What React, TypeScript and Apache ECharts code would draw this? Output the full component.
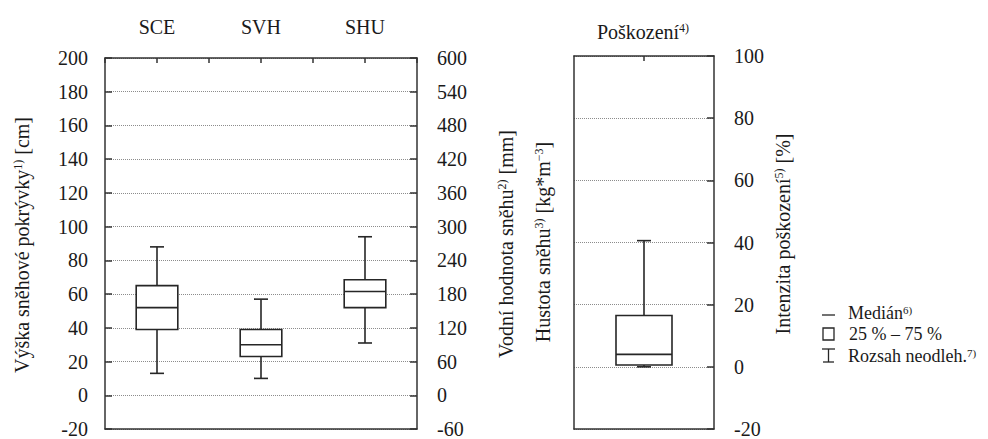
import React, { useEffect, useRef } from 'react';
import * as echarts from 'echarts';

// ---- data ----
const categories = ['SCE', 'SVH', 'SHU'];
// [min, Q1, median, Q3, max]
const snowMin = [13, 10, 31];
const snowQ1 = [39, 23, 52];
const snowMedian = [52, 30, 61.5];
const snowQ3 = [65, 39, 68.5];
const snowMax = [88, 57, 94];

const damageCategories = ['Poškození'];
const damageMin = [0];
const damageQ1 = [0.6];
const damageMedian = [4];
const damageQ3 = [16.5];
const damageMax = [40.6];

const depthTicks = [-20, 0, 20, 40, 60, 80, 100, 120, 140, 160, 180, 200];
const waterTicks = [-60, 0, 60, 120, 180, 240, 300, 360, 420, 480, 540, 600];
const damageTicks = [-20, 0, 20, 40, 60, 80, 100];
const topTickBands = ['a', 'b', 'c', 'd', 'e', 'f'];

const FONT = 'Liberation Serif';
const INK = '#262626';
const AXIS = '#333';

const range = (t: number[]) => ({ min: t[0], max: t[t.length - 1], interval: t[1] - t[0] });

const makeRender = (capW: number) => (params: any, api: any) => {
  const i = api.value(0);
  const c = (v: number) => api.coord([i, v]);
  const lo = c(api.value(1));
  const q1 = c(api.value(2));
  const md = c(api.value(3));
  const q3 = c(api.value(4));
  const hi = c(api.value(5));
  const band = api.size([1, 0])[0];
  const hw = band * 0.2;
  const x = lo[0];
  const st = { stroke: INK, lineWidth: 1.6, fill: 'none' };
  return {
    type: 'group',
    children: [
      { type: 'line', shape: { x1: x, y1: hi[1], x2: x, y2: q3[1] }, style: st },
      { type: 'line', shape: { x1: x, y1: q1[1], x2: x, y2: lo[1] }, style: st },
      { type: 'line', shape: { x1: x - capW / 2, y1: hi[1], x2: x + capW / 2, y2: hi[1] }, style: st },
      { type: 'line', shape: { x1: x - capW / 2, y1: lo[1], x2: x + capW / 2, y2: lo[1] }, style: st },
      { type: 'rect', shape: { x: x - hw, y: q3[1], width: 2 * hw, height: q1[1] - q3[1] }, style: { stroke: INK, lineWidth: 1.6, fill: '#fff' } },
      { type: 'line', shape: { x1: x - hw, y1: md[1], x2: x + hw, y2: md[1] }, style: st },
    ],
  };
};

const makeRich = (size: number, sup: number) => ({
  n: { font: `${size}px ${FONT}`, fontFamily: FONT, fontSize: size, lineHeight: size, fill: '#1a1a1a' },
  s: { font: `${sup}px ${FONT}`, fontFamily: FONT, fontSize: sup, lineHeight: sup, verticalAlign: 'top', fill: '#1a1a1a' },
});

const rtext = (x: number, y: number, text: string, rot = 0, align = 'center', size = 20, sup = 12) => ({
  type: 'text',
  x,
  y,
  rotation: rot,
  style: {
    text, rich: makeRich(size, sup), align, verticalAlign: 'middle', fill: '#1a1a1a',
    font: `${size}px ${FONT}`, fontFamily: FONT, fontSize: size,
  },
});

export default function App() {
  const ref = useRef<HTMLDivElement>(null);
  useEffect(() => {
    if (!ref.current) return;
    const chart = echarts.init(ref.current, undefined, { renderer: 'svg' });
    const labelStyle = { fontFamily: FONT, fontSize: 20, color: '#1a1a1a' };
    const lineSt = { color: AXIS, width: 1.5 };
    const split = { show: true, lineStyle: { color: '#8c8c8c', type: 'dotted', width: 1 } };
    const snowData = categories.map((_, i) => [i, snowMin[i], snowQ1[i], snowMedian[i], snowQ3[i], snowMax[i]]);
    const damageData = damageCategories.map((_, i) => [i, damageMin[i], damageQ1[i], damageMedian[i], damageQ3[i], damageMax[i]]);

    chart.setOption({
      animation: false,
      textStyle: { fontFamily: FONT },
      grid: [
        { left: 105, top: 58, width: 312, height: 374 },
        { left: 574, top: 56, width: 140, height: 375 },
      ],
      xAxis: [
        {
          gridIndex: 0, type: 'category', data: categories, position: 'top',
          axisLine: { show: true, onZero: false, lineStyle: lineSt }, axisTick: { show: false },
          axisLabel: { ...labelStyle, margin: 21, lineHeight: 20 },
        },
        {
          gridIndex: 0, type: 'category', data: topTickBands, position: 'top',
          axisLine: { show: false, onZero: false }, axisLabel: { show: false },
          axisTick: { show: true, inside: true, length: 5, interval: 0, lineStyle: lineSt },
        },
        {
          gridIndex: 0, type: 'category', data: categories, position: 'bottom',
          axisLine: { show: true, onZero: false, lineStyle: lineSt }, axisTick: { show: false }, axisLabel: { show: false },
        },
        {
          gridIndex: 1, type: 'category', data: damageCategories, position: 'top',
          axisLine: { show: true, onZero: false, lineStyle: lineSt }, axisLabel: { show: false },
          axisTick: { show: true, inside: true, length: 5, alignWithLabel: true, lineStyle: lineSt },
        },
        {
          gridIndex: 1, type: 'category', data: damageCategories, position: 'bottom',
          axisLine: { show: true, onZero: false, lineStyle: lineSt }, axisTick: { show: false }, axisLabel: { show: false },
        },
      ],
      yAxis: [
        {
          gridIndex: 0, type: 'value', position: 'left', ...range(depthTicks),
          axisLine: { show: true, onZero: false, lineStyle: lineSt },
          axisTick: { show: true, inside: true, length: 7, lineStyle: lineSt },
          axisLabel: { ...labelStyle, margin: 17 },
          splitLine: split,
        },
        {
          gridIndex: 0, type: 'value', position: 'right', ...range(waterTicks),
          axisLine: { show: true, onZero: false, lineStyle: lineSt },
          axisTick: { show: true, inside: true, length: 7, lineStyle: lineSt },
          axisLabel: { ...labelStyle, margin: 20 },
          splitLine: { show: false },
        },
        {
          gridIndex: 1, type: 'value', position: 'left', ...range(damageTicks),
          axisLine: { show: true, onZero: false, lineStyle: lineSt },
          axisTick: { show: false }, axisLabel: { show: false },
          splitLine: split,
        },
        {
          gridIndex: 1, type: 'value', position: 'right', ...range(damageTicks),
          axisLine: { show: true, onZero: false, lineStyle: lineSt },
          axisTick: { show: true, inside: true, length: 7, lineStyle: lineSt },
          axisLabel: { ...labelStyle, margin: 20 },
          splitLine: { show: false },
        },
      ],
      series: [
        {
          type: 'custom', xAxisIndex: 0, yAxisIndex: 0, data: snowData,
          encode: { x: 0, y: [1, 2, 3, 4, 5] }, renderItem: makeRender(14),
        },
        {
          type: 'custom', xAxisIndex: 3, yAxisIndex: 2, data: damageData,
          encode: { x: 0, y: [1, 2, 3, 4, 5] }, renderItem: makeRender(14),
        },
      ],
      graphic: [
        rtext(22, 245, '{n|Výška sněhové pokrývky}{s|1)}{n| [cm]}', Math.PI / 2),
        rtext(506, 244, '{n|Vodní hodnota sněhu}{s|2)}{n| [mm]}', Math.PI / 2),
        rtext(543, 242, '{n|Hustota sněhu}{s|3)}{n| [kg*m}{s|−3}{n|]}', Math.PI / 2),
        rtext(783, 234, '{n|Intenzita poškození}{s|5)}{n| [%]}', Math.PI / 2),
        rtext(643, 32, '{n|Poškození}{s|4)}'),
        { type: 'line', shape: { x1: 822, y1: 315, x2: 835, y2: 315 }, style: { stroke: INK, lineWidth: 1.3 } },
        rtext(848, 313, '{n|Medián}{s|6)}', 0, 'left', 18, 11),
        { type: 'rect', shape: { x: 823, y: 328, width: 11, height: 12 }, style: { stroke: INK, lineWidth: 1.3, fill: '#fff' } },
        rtext(849, 334, '{n|25 % – 75 %}', 0, 'left', 18, 11),
        { type: 'line', shape: { x1: 822, y1: 349, x2: 835, y2: 349 }, style: { stroke: INK, lineWidth: 1.3 } },
        { type: 'line', shape: { x1: 828.5, y1: 349, x2: 828.5, y2: 362 }, style: { stroke: INK, lineWidth: 1.3 } },
        { type: 'line', shape: { x1: 823, y1: 362, x2: 834, y2: 362 }, style: { stroke: INK, lineWidth: 1.3 } },
        rtext(848, 356, '{n|Rozsah neodleh.}{s|7)}', 0, 'left', 18, 11),
      ],
    });
    return () => chart.dispose();
  }, []);
  return <div ref={ref} style={{ position: 'fixed', left: 0, top: 0, width: 988, height: 439, background: '#fff' }} />;
}
